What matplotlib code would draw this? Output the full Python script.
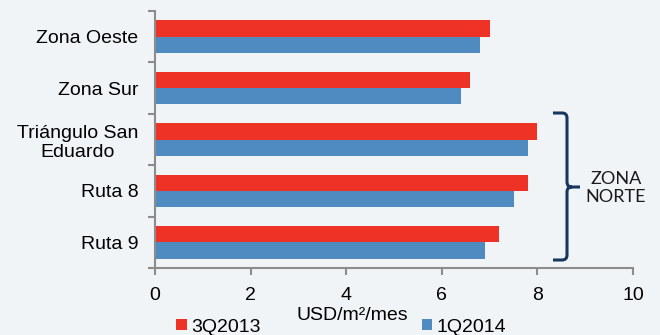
import matplotlib.pyplot as plt
from matplotlib.path import Path
from matplotlib.patches import PathPatch
import numpy as np

# -------------------------------------------------
# Data
# -------------------------------------------------

zonas = ["Zona Oeste", "Zona Sur", "Triángulo San\nEduardo", "Ruta 8", "Ruta 9"]
q3_2013 = [7.0, 6.6, 8.0, 7.8, 7.2]
q1_2014 = [6.8, 6.4, 7.8, 7.5, 6.9]
x_ticks = [0, 2, 4, 6, 8, 10]

RED = "#EF3226"
BLUE = "#4F8BC0"
BG = "#F0F4F7"
AXIS = "#8C8C8C"
NAVY = "#17375E"

plt.rcParams["font.family"] = ["Liberation Sans", "DejaVu Sans"]

W, H = 660, 335
fig = plt.figure(figsize=(W / 100, H / 100), dpi=100, facecolor=BG)
ax = fig.add_axes([155 / W, 1 - 268 / H, (633 - 155) / W, (268 - 11) / H])
ax.set_facecolor(BG)

# -------------------------------------------------
# Bars
# -------------------------------------------------

y = np.arange(len(zonas))
h = 0.317
ax.barh(y - h / 2, q3_2013, height=h, color=RED, label="3Q2013")
ax.barh(y + h / 2, q1_2014, height=h, color=BLUE, label="1Q2014")

ax.set_xlim(0, 10)
ax.set_ylim(len(zonas) - 0.5, -0.5)

ax.set_xticks(x_ticks)
ax.set_xticklabels([str(v) for v in x_ticks], fontsize=14)
ax.set_yticks(y)
ax.set_yticklabels(zonas, fontsize=14)
for lbl in ax.get_yticklabels():
    lbl.set_multialignment("center")
ax.set_yticks(np.arange(len(zonas) + 1) - 0.5, minor=True)

ax.tick_params(axis="y", which="major", length=0, pad=12)
ax.tick_params(axis="y", which="minor", length=5, width=1.5, color=AXIS, direction="out")
ax.tick_params(axis="x", length=5, width=1.5, color=AXIS, direction="out", pad=9)

for s in ["top", "right"]:
    ax.spines[s].set_visible(False)
for s in ["left", "bottom"]:
    ax.spines[s].set_color(AXIS)
    ax.spines[s].set_linewidth(1.5)

# -------------------------------------------------
# Axis title and legend
# -------------------------------------------------

fig.text(352 / W, 1 - 316 / H, "USD/m²/mes", fontsize=14, ha="center", va="center")

leg = fig.legend(loc="center", bbox_to_anchor=(341 / W, 1 - 327 / H), ncol=2,
                 frameon=False, fontsize=14, handlelength=0.55, handleheight=0.55,
                 handletextpad=0.2, columnspacing=8.3, borderpad=0, borderaxespad=0)

# -------------------------------------------------
# Brace for ZONA NORTE (pixel coords, top-left origin)
# -------------------------------------------------

brace_px = [
    ((553, 113), Path.MOVETO),
    ((562, 113), Path.LINETO),
    ((567, 113), Path.CURVE3),
    ((567, 118), Path.CURVE3),
    ((567, 182), Path.LINETO),
    ((567, 187), Path.CURVE3),
    ((572, 187), Path.CURVE3),
    ((580, 187), Path.LINETO),
    ((572, 187), Path.MOVETO),
    ((567, 187), Path.CURVE3),
    ((567, 192), Path.CURVE3),
    ((567, 255), Path.LINETO),
    ((567, 260), Path.CURVE3),
    ((562, 260), Path.CURVE3),
    ((553, 260), Path.LINETO),
]
verts = [(px / W, 1 - py / H) for (px, py), _ in brace_px]
codes = [c for _, c in brace_px]
fig.patches.append(PathPatch(Path(verts, codes), transform=fig.transFigure, fill=False,
                             edgecolor=NAVY, linewidth=2.2, capstyle="butt"))

fig.text(616 / W, 1 - 188 / H, "ZONA\nNORTE", fontsize=13, ha="center", va="center",
         family=["Lato", "DejaVu Sans"], color="#1A1A1A", linespacing=1.2)

plt.savefig("out.png", dpi=100, facecolor=BG)
plt.close()
